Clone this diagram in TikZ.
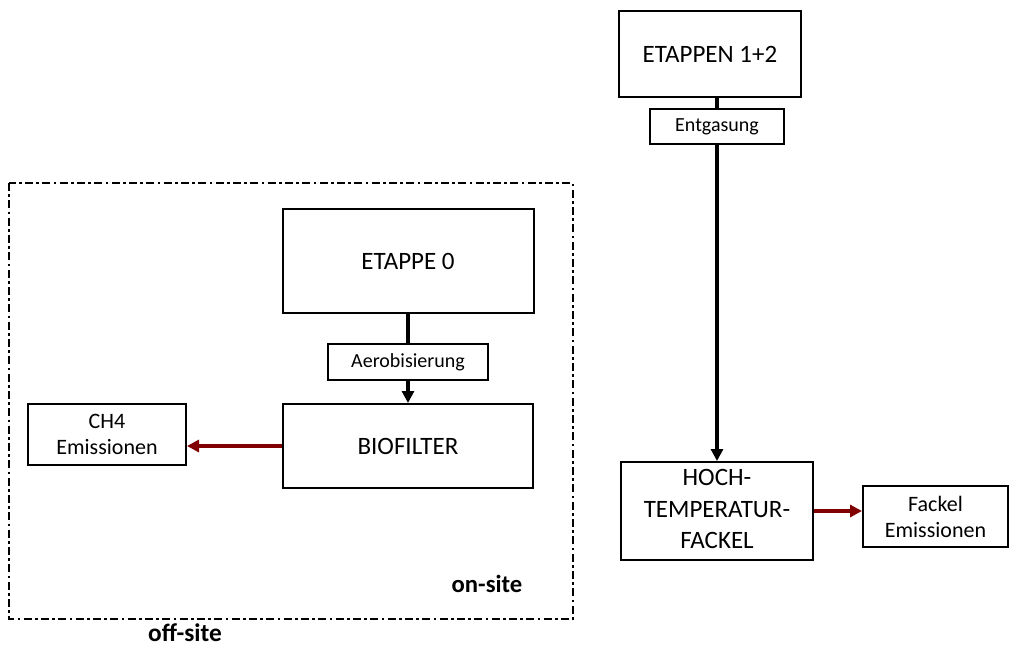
\documentclass[tikz,border=0pt]{standalone}
\usepackage{fontspec}
\setmainfont{Carlito}
\usepackage{tikz}
\usetikzlibrary{arrows.meta}
\usepackage{xcolor}
\definecolor{emired}{RGB}{128,0,0}

\begin{document}
\begin{tikzpicture}[x=0.75pt,y=-0.75pt,>={Triangle[length=9pt,width=9pt]},line cap=butt,
  box/.style={draw,line width=1.5pt,inner sep=0pt,align=center},
  bigtxt/.style={font=\fontsize{18.75}{23.6}\selectfont},
  smalltxt/.style={font=\fontsize{15}{18.75}\selectfont},
  emtxt/.style={font=\fontsize{16.5}{19.5}\selectfont},
  flow/.style={->,line width=2.4pt},
  emis/.style={->,line width=3.4pt,emired}]
\useasboundingbox (0,0) rectangle (1011,669);
\draw[line width=2.2pt,dash pattern=on 6pt off 2.5pt on 2pt off 2.5pt] (9,183) rectangle (573,619);
\node[box,bigtxt,minimum width=136.5pt,minimum height=64.5pt] (etappen) at (710,54) {ETAPPEN 1+2};
\node[box,smalltxt,minimum width=100.5pt,minimum height=26.25pt] (entgas) at (717,126.5) {Entgasung};
\node[box,bigtxt,minimum width=188.25pt,minimum height=78pt] (etappe0) at (408,261) {ETAPPE 0};
\node[box,smalltxt,minimum width=120pt,minimum height=27pt] (aerob) at (408,362) {Aerobisierung};
\node[box,bigtxt,minimum width=187.5pt,minimum height=63pt] (biofilter) at (408,446) {BIOFILTER};
\node[box,emtxt,minimum width=118.5pt,minimum height=45.75pt] (chemis) at (107,434.5) {CH4\\Emissionen};
\node[box,bigtxt,minimum width=144pt,minimum height=73.5pt] (fackel) at (717,511) {\raisebox{-3pt}{\begin{tabular}{@{}c@{}}HOCH-\\TEMPERATUR-\\FACKEL\end{tabular}}};
\node[box,emtxt,minimum width=108.75pt,minimum height=45.75pt] (fackemis) at (935.5,516.5) {Fackel\\Emissionen};
\node[font=\fontsize{18.5}{22}\selectfont\bfseries] (onsite) at (487,584) {on-site};
\node[font=\fontsize{19}{22}\selectfont\bfseries] (offsite) at (185,633) {off-site};
\draw[line width=2.4pt] (etappen.south -| entgas.north) -- (entgas.north);
\draw[flow] (entgas.south) -- (fackel.north);
\draw[line width=2.4pt] (etappe0.south) -- (aerob.north);
\draw[flow] (aerob.south) -- (biofilter.north);
\draw[emis] (biofilter.west) -- (biofilter.west -| chemis.east);
\draw[emis] (fackel.east) -- (fackel.east -| fackemis.west);
\end{tikzpicture}
\end{document}
